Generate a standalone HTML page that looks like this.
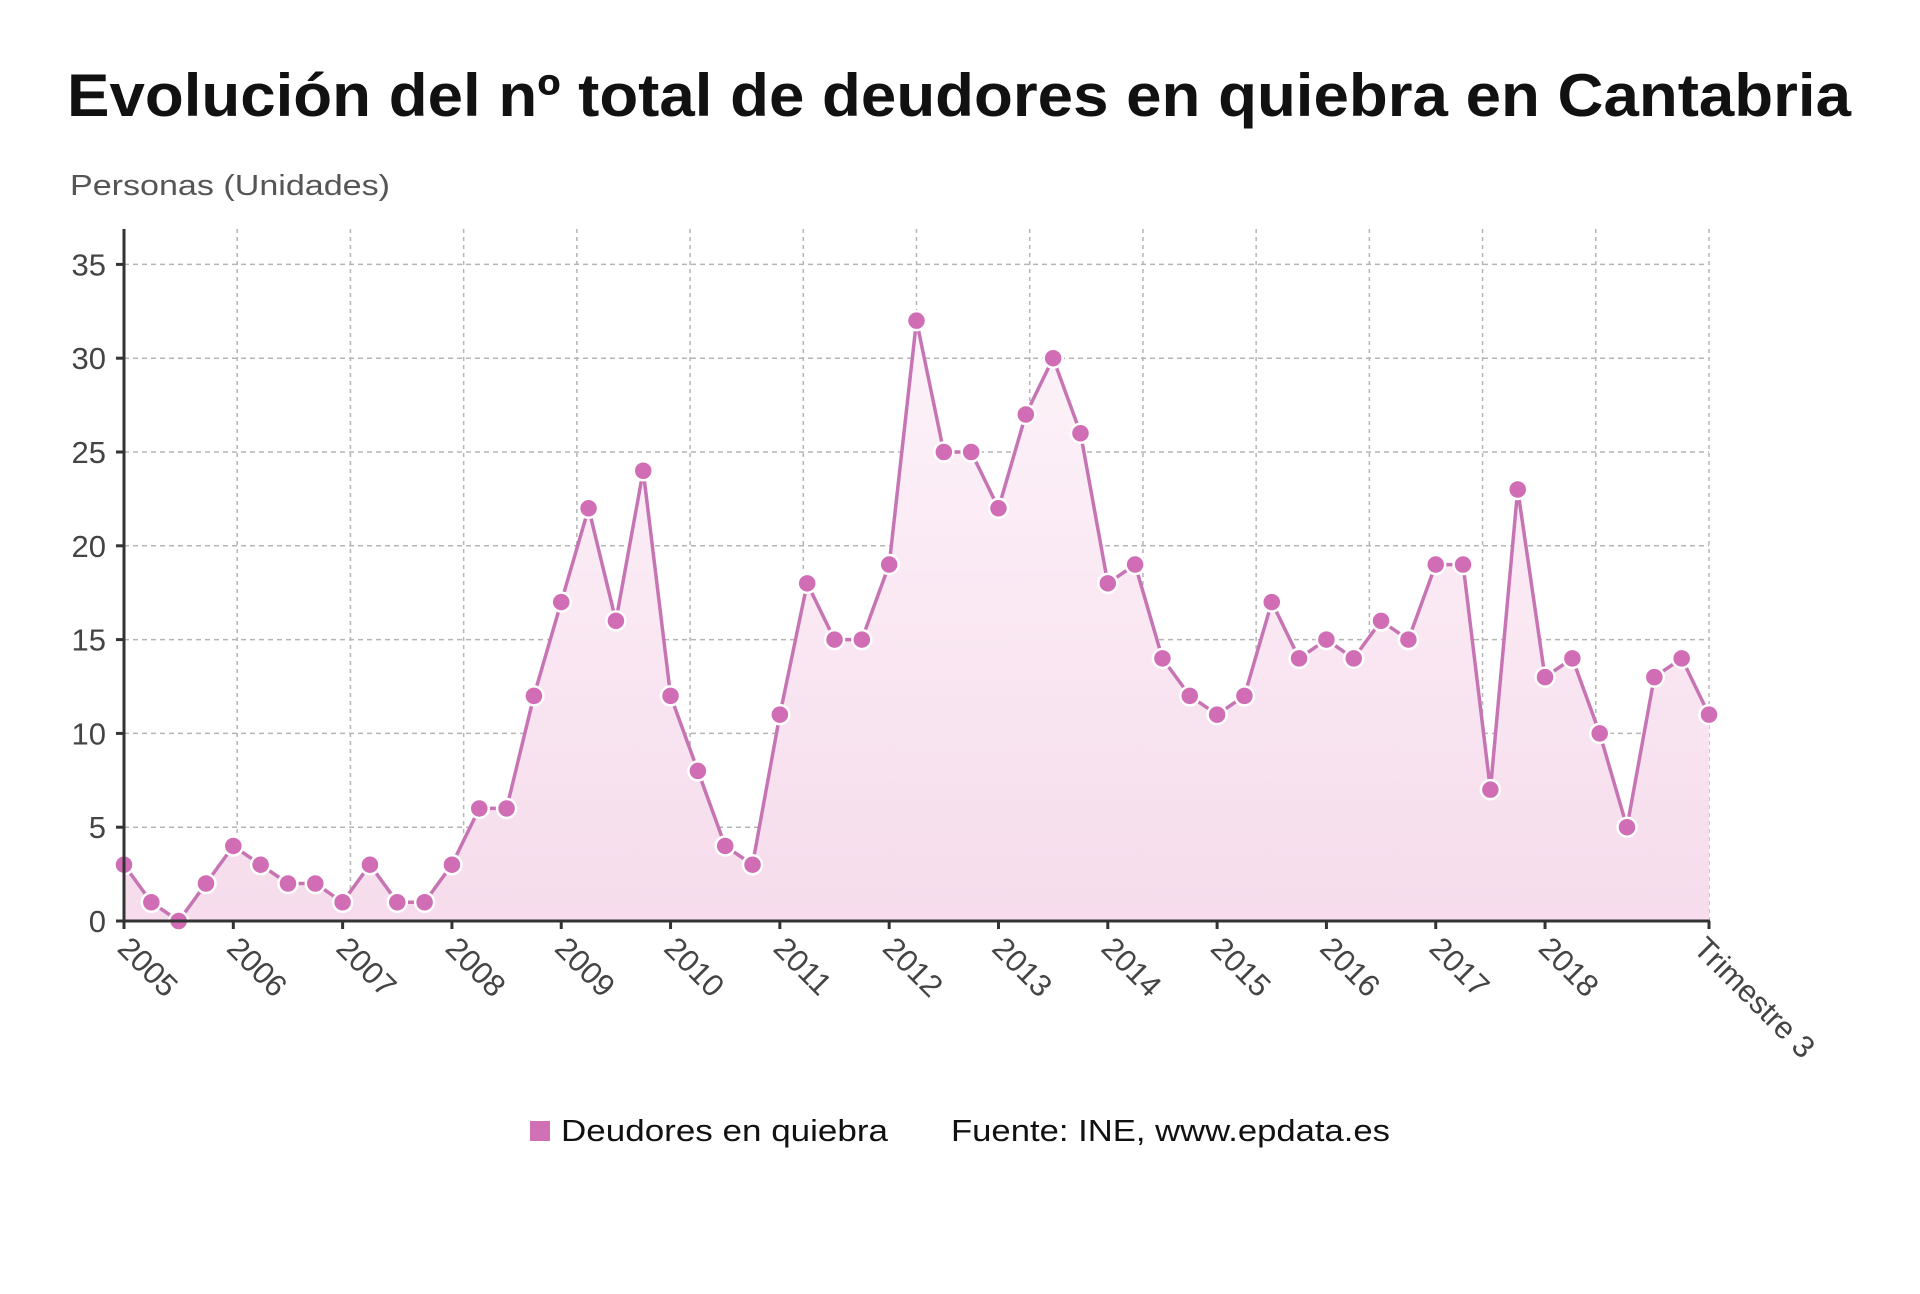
<!DOCTYPE html>
<html><head><meta charset="utf-8"><style>
html,body{margin:0;padding:0;background:#fff;}
svg{display:block;font-family:"Liberation Sans",sans-serif;}
</style></head><body>
<svg id="s" width="1920" height="1294" viewBox="0 0 1920 1294" xmlns="http://www.w3.org/2000/svg">
<defs>
<linearGradient id="g" x1="0" y1="0" x2="0" y2="1">
<stop offset="0" stop-color="#fdf3f9"/><stop offset="1" stop-color="#f6dcec"/>
</linearGradient>
</defs>
<text x="67" y="116" font-size="60" font-weight="bold" fill="#111" textLength="1784" lengthAdjust="spacingAndGlyphs">Evolución del nº total de deudores en quiebra en Cantabria</text>
<text x="70" y="195" font-size="29" fill="#555" textLength="320" lengthAdjust="spacingAndGlyphs">Personas (Unidades)</text>
<g id="grid"></g>
<path id="area" fill="url(#g)"/>
<polyline id="line" fill="none" stroke="#c774b4" stroke-width="3.5" stroke-linejoin="round"/>
<g id="pts"></g>
<line x1="124" y1="229" x2="124" y2="923" stroke="#333" stroke-width="3"/>
<line x1="124" y1="921" x2="1710" y2="921" stroke="#333" stroke-width="3"/>
<g id="lab" font-size="31" fill="#444"></g>
<rect x="530" y="1121" width="20" height="20" fill="#d070b5"/>
<text x="561" y="1141" font-size="31" fill="#111" textLength="327" lengthAdjust="spacingAndGlyphs">Deudores en quiebra</text>
<text x="951" y="1141" font-size="31" fill="#111" textLength="439" lengthAdjust="spacingAndGlyphs">Fuente: INE, www.epdata.es</text>
</svg>
<script>
var d=[3,1,0,2,4,3,2,2,1,3,1,1,3,6,6,12,17,22,16,24,12,8,4,3,11,18,15,15,19,32,25,25,22,27,30,26,18,19,14,12,11,12,17,14,15,14,16,15,19,19,7,23,13,14,10,5,13,14,11];
var NS="http://www.w3.org/2000/svg";
function X(i){return 124+i*(1709-124)/58;}
function Y(v){return 921-v*18.76;}
function el(t,a,p){var e=document.createElementNS(NS,t);for(var k in a)e.setAttribute(k,a[k]);if(p)p.appendChild(e);return e;}
var grid=document.getElementById('grid'),lab=document.getElementById('lab');
for(var v=5;v<=35;v+=5){el('line',{x1:124,x2:1709,y1:Y(v),y2:Y(v),stroke:'#b5b5b5','stroke-width':1.5,'stroke-dasharray':'5,4'},grid);}
for(var k=1;k<=14;k++){var x=124+k*(1709-124)/14;el('line',{x1:x,x2:x,y1:229,y2:921,stroke:'#b5b5b5','stroke-width':1.5,'stroke-dasharray':'4,4'},grid);}
for(var v=0;v<=35;v+=5){var t=el('text',{x:106,y:Y(v)+11,'text-anchor':'end'},lab);t.textContent=v;el('line',{x1:116,x2:124,y1:Y(v),y2:Y(v),stroke:'#333','stroke-width':3},lab);}
for(var yr=0;yr<14;yr++){var x=X(yr*4);el('line',{x1:x,x2:x,y1:921,y2:929,stroke:'#333','stroke-width':3},lab);
var t=el('text',{x:0,y:0,transform:'translate('+(x-8)+',950) rotate(45)'},lab);t.textContent=2005+yr;}
el('line',{x1:1709,x2:1709,y1:921,y2:929,stroke:'#333','stroke-width':3},lab);
var t=el('text',{x:0,y:0,transform:'translate(1692,950) rotate(45)'},lab);t.textContent='Trimestre 3';
var pts=d.map(function(v,i){return X(i).toFixed(1)+','+Y(v).toFixed(1);});
document.getElementById('line').setAttribute('points',pts.join(' '));
document.getElementById('area').setAttribute('d','M'+X(0)+',921 L'+pts.join(' L')+' L'+X(58)+',921 Z');
var pg=document.getElementById('pts');
d.forEach(function(v,i){el('circle',{cx:X(i),cy:Y(v),r:9.5,fill:'#d06db5',stroke:'#fff','stroke-width':2.5},pg);});
</script>
</body></html>
